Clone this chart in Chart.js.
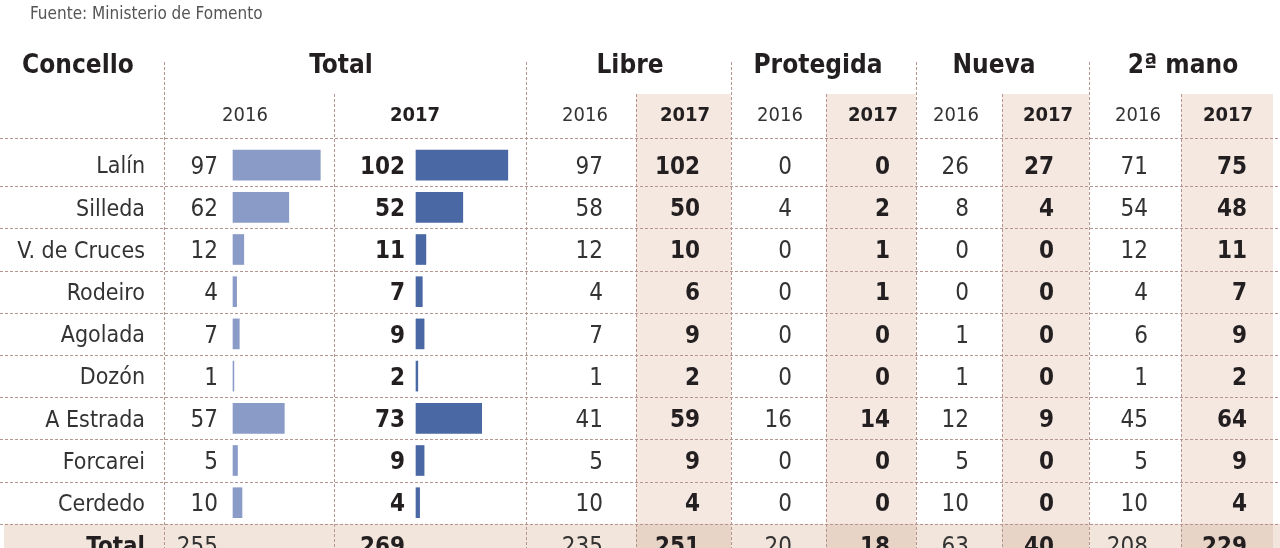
<!DOCTYPE html>
<html lang="es">
<head>
<meta charset="utf-8">
<title>Compraventa de vivienda por concello</title>
<script src="https://cdn.jsdelivr.net/npm/chart.js@4.4.1/dist/chart.umd.min.js"></script>
<style>
  html, body { margin: 0; padding: 0; background: #fff; overflow: hidden; }
  #wrap { width: 1280px; height: 548px; overflow: hidden; position: relative; }
</style>
</head>
<body>
<div id="wrap"><canvas id="tabla" width="1280" height="566"></canvas></div>
<script>
// Datos por concello (Fuente: Ministerio de Fomento)
const concellos = ['Lalín', 'Silleda', 'V. de Cruces', 'Rodeiro', 'Agolada', 'Dozón', 'A Estrada', 'Forcarei', 'Cerdedo'];
const total2016 = [97, 62, 12, 4, 7, 1, 57, 5, 10];
const total2017 = [102, 52, 11, 7, 9, 2, 73, 9, 4];
const libre2016 = [97, 58, 12, 4, 7, 1, 41, 5, 10];
const libre2017 = [102, 50, 10, 6, 9, 2, 59, 9, 4];
const protegida2016 = [0, 4, 0, 0, 0, 0, 16, 0, 0];
const protegida2017 = [0, 2, 1, 1, 0, 0, 14, 0, 0];
const nueva2016 = [26, 8, 0, 0, 1, 1, 12, 5, 10];
const nueva2017 = [27, 4, 0, 0, 0, 0, 9, 0, 0];
const mano2016 = [71, 54, 12, 4, 6, 1, 45, 5, 10];
const mano2017 = [75, 48, 11, 7, 9, 2, 64, 9, 4];

// fila "Total": Total, Libre, Protegida, Nueva, 2ª mano
const sumas2016 = [255, 235, 20, 63, 208];
const sumas2017 = [269, 251, 18, 40, 229];

const grupos = ['Total', 'Libre', 'Protegida', 'Nueva', '2ª mano'];
const anos = ['2016', '2017'];
const fuente = 'Fuente: Ministerio de Fomento';

// Maquetacion
const FUENTE = '"DejaVu Sans Condensed", "DejaVu Sans", sans-serif';
const W = 1280;
const HEAD_H = 144;            // alto de la cabecera
const PX_UNIT = 0.9;           // px de barra por vivienda
const BAR0 = [233, 416];       // origen de barras 2016 / 2017
const COLOR_2016 = '#8a9bc8';
const COLOR_2017 = '#4a68a3';
const SOMBRA = '#f4e8e1';
const FILA_TOTAL = '#f2e5dc';
const FILA_TOTAL_2017 = '#e8d3c7';
const LINEA = '#b5958f';
const TINTA = '#231f20';

const xGrupo = [341, 630, 818, 994, 1183];
const xAno = [245, 415, 585, 685, 780, 873, 956, 1048, 1138, 1228];
const lineasGrupo = [164, 526, 731, 916, 1089];
const lineasAno = [334, 636, 826, 1002, 1181];
const sombras = [[636, 731], [826, 916], [1002, 1089], [1181, 1273]];

// columnas de numeros: valores, suma, borde derecho, negrita
const columnas = [
    { v: total2016, s: sumas2016[0], x: 218, bold: false },
    { v: total2017, s: sumas2017[0], x: 405, bold: true },
    { v: libre2016, s: sumas2016[1], x: 603, bold: false },
    { v: libre2017, s: sumas2017[1], x: 700, bold: true },
    { v: protegida2016, s: sumas2016[2], x: 792, bold: false },
    { v: protegida2017, s: sumas2017[2], x: 890, bold: true },
    { v: nueva2016, s: sumas2016[3], x: 969, bold: false },
    { v: nueva2017, s: sumas2017[3], x: 1054, bold: true },
    { v: mano2016, s: sumas2016[4], x: 1148, bold: false },
    { v: mano2017, s: sumas2017[4], x: 1247, bold: true }
];

function texto(ctx, s, x, cy, size, bold, align, color) {
    ctx.font = (bold ? 'bold ' : '') + size + 'px ' + FUENTE;
    ctx.textAlign = align;
    ctx.textBaseline = 'alphabetic';
    ctx.fillStyle = color || TINTA;
    ctx.fillText(s, x, cy + size * 0.36);
}

function linea(ctx, x1, y1, x2, y2) {
    ctx.beginPath();
    ctx.moveTo(x1, y1);
    ctx.lineTo(x2, y2);
    ctx.stroke();
}

const tablaPlugin = {
    id: 'tabla',
    beforeDraw(chart) {
        const ctx = chart.ctx;
        const y = chart.scales.y;
        const alto = chart.height;
        const paso = y.getPixelForValue(1) - y.getPixelForValue(0);
        const n = concellos.length;
        const topTotal = y.getPixelForValue(n) - paso / 2;

        ctx.save();
        ctx.fillStyle = '#fff';
        ctx.fillRect(0, 0, chart.width, alto);

        // columnas 2017 sombreadas
        ctx.fillStyle = SOMBRA;
        sombras.forEach(([a, b]) => ctx.fillRect(a, 94, b - a, topTotal - 94));
        // fila total
        ctx.fillStyle = FILA_TOTAL;
        ctx.fillRect(4, topTotal, W - 4, alto - topTotal);
        ctx.fillStyle = FILA_TOTAL_2017;
        sombras.forEach(([a, b]) => ctx.fillRect(a, topTotal, b - a, alto - topTotal));

        // lineas punteadas
        ctx.strokeStyle = LINEA;
        ctx.lineWidth = 1;
        ctx.setLineDash([3, 2]);
        linea(ctx, 0, 138.5, W, 138.5);
        for (let i = 1; i <= n; i++) {
            const yy = Math.round(y.getPixelForValue(i) - paso / 2) + 0.5;
            linea(ctx, 0, yy, W, yy);
        }
        lineasGrupo.forEach(x => linea(ctx, x + 0.5, 62, x + 0.5, alto));
        lineasAno.forEach(x => linea(ctx, x + 0.5, 94, x + 0.5, alto));
        ctx.restore();
    },
    afterDatasetsDraw(chart) {
        const ctx = chart.ctx;
        const y = chart.scales.y;
        ctx.save();

        texto(ctx, fuente, 30, 13, 17, false, 'left', '#555');

        // cabeceras
        texto(ctx, 'Concello', 22, 64, 26, true, 'left');
        grupos.forEach((g, i) => texto(ctx, g, xGrupo[i], 64, 26, true, 'center'));
        xAno.forEach((x, i) => texto(ctx, anos[i % 2], x, 114, 20, i % 2 === 1, 'center', i % 2 ? TINTA : '#333'));

        // filas
        concellos.forEach((c, r) => {
            const cy = y.getPixelForValue(r);
            texto(ctx, c, 145, cy, 23, false, 'right', '#333');
            columnas.forEach(col => texto(ctx, String(col.v[r]), col.x, cy, 24, col.bold, 'right', col.bold ? TINTA : '#333'));
        });

        // fila total
        const cyT = y.getPixelForValue(concellos.length);
        texto(ctx, 'Total', 145, cyT, 24, true, 'right');
        columnas.forEach(col => texto(ctx, String(col.s), col.x, cyT, 24, col.bold, 'right', col.bold ? TINTA : '#333'));

        ctx.restore();
    }
};

new Chart(document.getElementById('tabla'), {
    type: 'bar',
    data: {
        labels: concellos.concat(['Total']),
        datasets: [
            {
                label: 'Total 2016',
                data: total2016,
                xAxisID: 'x16',
                backgroundColor: COLOR_2016,
                barThickness: 30,
                grouped: false
            },
            {
                label: 'Total 2017',
                data: total2017,
                xAxisID: 'x17',
                backgroundColor: COLOR_2017,
                barThickness: 30,
                grouped: false
            }
        ]
    },
    options: {
        indexAxis: 'y',
        responsive: false,
        animation: false,
        devicePixelRatio: 1,
        events: [],
        layout: { padding: { top: HEAD_H, left: 0, right: 0, bottom: 0 } },
        plugins: {
            legend: { display: false },
            tooltip: { enabled: false }
        },
        scales: {
            y: { type: 'category', display: false, offset: true },
            x16: {
                type: 'linear', axis: 'x', display: false,
                min: -BAR0[0] / PX_UNIT, max: (W - BAR0[0]) / PX_UNIT
            },
            x17: {
                type: 'linear', axis: 'x', display: false,
                min: -BAR0[1] / PX_UNIT, max: (W - BAR0[1]) / PX_UNIT
            }
        }
    },
    plugins: [tablaPlugin]
});
</script>
</body>
</html>
